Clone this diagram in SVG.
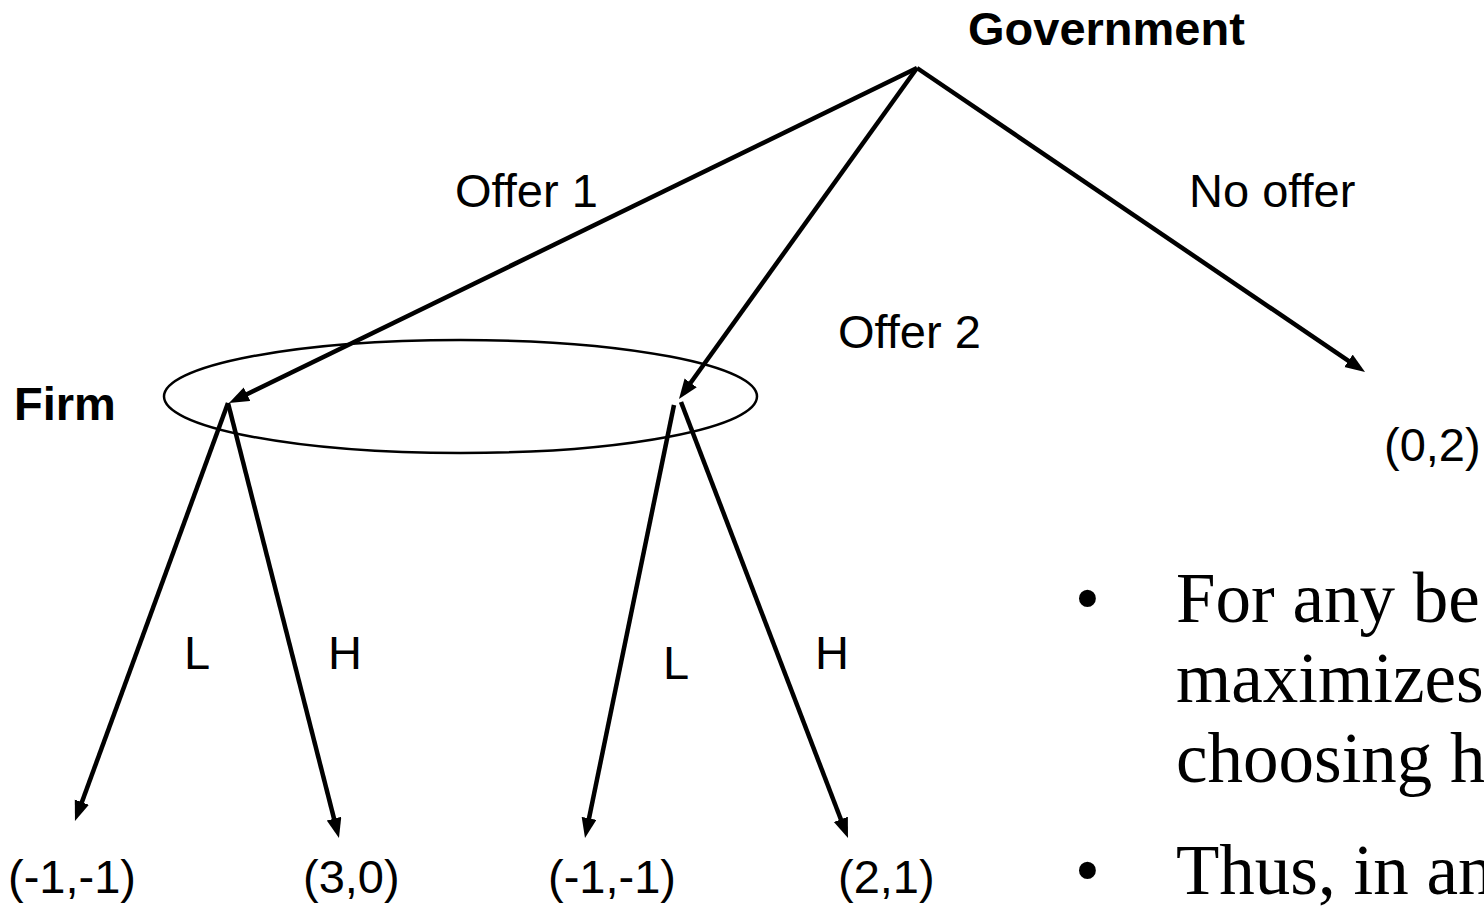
<svg xmlns="http://www.w3.org/2000/svg" width="1484" height="906" viewBox="0 0 1484 906">
<defs>
<marker id="ah" markerUnits="userSpaceOnUse" markerWidth="22" markerHeight="16" refX="8" refY="7.5" orient="auto">
<path d="M0,0 L20,7.5 L0,15 z" fill="#000"/>
</marker>
<style>
.edge{stroke:#000;stroke-width:4.5;fill:none;marker-end:url(#ah)}
.lbl{font-family:"Liberation Sans",Arial,sans-serif;font-size:47px;fill:#000}
.b{font-weight:bold}
.body{font-family:"Liberation Serif","Times New Roman",serif;font-size:71px;fill:#000}
</style>
</defs>
<rect width="1484" height="906" fill="#fff"/>
<g id="connectors">
<line class="edge" x1="917" y1="68" x2="239.8" y2="397.7"/>
<line class="edge" x1="917" y1="68" x2="686" y2="389.3"/>
<line class="edge" x1="917" y1="68" x2="1355.1" y2="365.3"/>
<line class="edge" x1="228" y1="403" x2="79.1" y2="809.7"/>
<line class="edge" x1="228" y1="403" x2="336" y2="826.4"/>
<line class="edge" x1="674" y1="405" x2="587.4" y2="826.2"/>
<line class="edge" x1="681" y1="402" x2="843.7" y2="826.8"/>
</g>
<g id="info-set">
<ellipse cx="460.5" cy="396.5" rx="296.5" ry="56.5" fill="none" stroke="#000" stroke-width="2.5"/>
</g>
<g id="government"><text class="lbl b" x="968" y="45">Government</text></g>
<g id="firm"><text class="lbl b" x="14" y="420">Firm</text></g>
<g id="edge-labels">
<text class="lbl" x="455" y="207">Offer 1</text>
<text class="lbl" x="1189" y="207">No offer</text>
<text class="lbl" x="838" y="348">Offer 2</text>
<text class="lbl" x="184" y="669">L</text>
<text class="lbl" x="328" y="669">H</text>
<text class="lbl" x="663" y="679">L</text>
<text class="lbl" x="815" y="669">H</text>
</g>
<g id="payoffs">
<text class="lbl" x="1384" y="461">(0,2)</text>
<text class="lbl" x="8" y="893">(-1,-1)</text>
<text class="lbl" x="303" y="893">(3,0)</text>
<text class="lbl" x="548" y="893">(-1,-1)</text>
<text class="lbl" x="838" y="893">(2,1)</text>
</g>
<g id="bullets">
<text class="body" x="1075" y="622">•</text>
<text class="body" x="1176" y="622">For any be</text>
<text class="body" x="1176" y="702">maximizes</text>
<text class="body" x="1176" y="782">choosing h</text>
<text class="body" x="1075" y="894">•</text>
<text class="body" x="1176" y="894">Thus, in an</text>
</g>
</svg>
